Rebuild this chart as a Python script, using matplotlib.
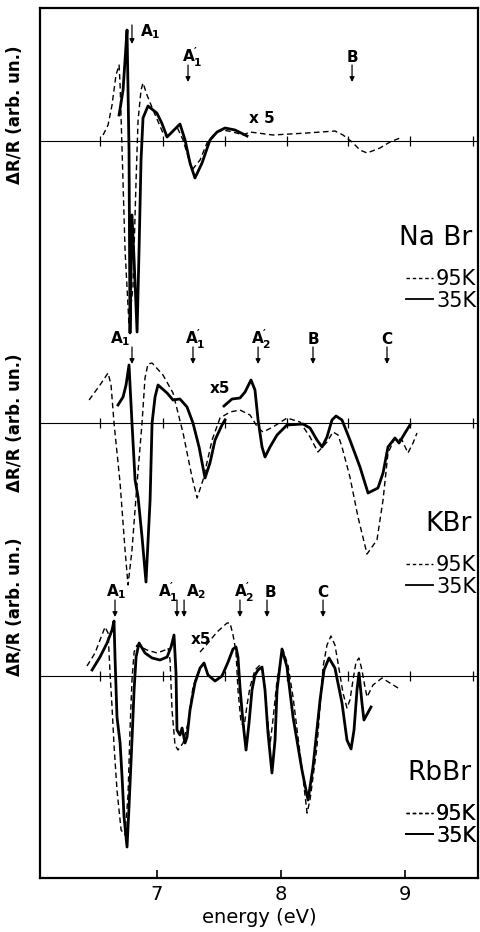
import matplotlib.pyplot as plt
from matplotlib.lines import Line2D

plt.rcParams['font.family'] = 'DejaVu Sans'
plt.rcParams['mathtext.default'] = 'regular'

# energies (eV) and dR/R (arb. units)

# NaBr
nabr_95k_e = [6.565, 6.605, 6.637, 6.669, 6.694, 6.702, 6.718, 6.742, 6.774, 6.806,
              6.831, 6.847, 6.871, 6.887, 6.919, 6.968, 7.048, 7.081, 7.161, 7.210,
              7.282, 7.347, 7.403, 7.468, 7.532, 7.613, 7.694, 7.750, 7.935, 8.210,
              8.435, 8.500, 8.573, 8.637, 8.694, 8.798, 8.879, 8.960]
nabr_95k_r = [6, 16, 36, 66, 76, 56, -9, -109, -184, -146,
              -39, 21, 51, 58, 46, 31, 8, 4, 14, 1,
              -29, -19, -2, 8, 11, 9, 6, 9, 6, 8,
              10, 6, -1, -9, -12, -7, -1, 3]
nabr_35k_e = [6.694, 6.726, 6.742, 6.758, 6.774, 6.782, 6.798, 6.815, 6.839, 6.855,
              6.871, 6.887, 6.927, 6.998, 7.038, 7.081, 7.121, 7.185, 7.226, 7.266,
              7.306, 7.363, 7.427, 7.484, 7.548, 7.629, 7.726]
nabr_35k_r = [26, 51, 81, 111, -9, -192, -74, -119, -191, -109,
              -19, 23, 35, 28, 18, 4, 9, 17, 1, -22,
              -37, -22, 1, 9, 13, 11, 5]

# KBr
kbr_95k_e = [6.452, 6.540, 6.605, 6.629, 6.653, 6.702, 6.742, 6.766, 6.798, 6.839,
             6.879, 6.903, 6.927, 6.960, 7.048, 7.129, 7.210, 7.282, 7.323, 7.371,
             7.444, 7.508, 7.589, 7.669, 7.750, 7.815, 7.855, 7.935, 8.048, 8.153,
             8.234, 8.298, 8.371, 8.419, 8.460, 8.492, 8.556, 8.621, 8.694, 8.774,
             8.823, 8.863, 8.919, 8.976, 9.024, 9.065, 9.097]
kbr_95k_r = [23, 38, 50, 38, 0, -60, -127, -162, -127, -60,
             0, 45, 59, 60, 48, 30, -10, -54, -75, -57,
             -17, 5, 11, 13, 8, -5, -9, -4, 5, 1,
             -14, -29, -19, -9, -12, -24, -54, -94, -131, -117,
             -77, -30, -15, -17, -30, -20, -10]
kbr_35k_e = [6.685, 6.726, 6.750, 6.774, 6.798, 6.823, 6.847, 6.879, 6.911, 6.944,
             6.960, 6.984, 7.008, 7.081, 7.129, 7.185, 7.242, 7.290, 7.339, 7.387,
             7.427, 7.468, 7.524, 7.548]
kbr_35k_r = [18, 26, 38, 58, 0, -57, -74, -114, -159, -77,
             0, 26, 38, 30, 23, 24, 16, 0, -24, -55,
             -40, -17, -2, 3]
# x5 part of the 35K curve
kbr_35k_x5_e = [7.540, 7.605, 7.669, 7.710, 7.758, 7.790, 7.815, 7.847, 7.871, 7.911,
                7.968, 8.048, 8.177, 8.234, 8.290, 8.331, 8.371, 8.411, 8.444, 8.492,
                8.556, 8.637, 8.702, 8.782, 8.823, 8.863, 8.919, 8.952, 9.000, 9.040]
kbr_35k_x5_r = [17, 24, 25, 31, 43, 33, 3, -24, -34, -24,
                -12, -2, -1, -5, -17, -24, -14, 3, 7, 3,
                -17, -44, -70, -65, -50, -24, -15, -20, -10, -2]

# RbBr
rbbr_95k_e = [6.435, 6.500, 6.540, 6.581, 6.605, 6.621, 6.637, 6.653, 6.677, 6.710,
              6.742, 6.766, 6.782, 6.798, 6.815, 6.839, 6.919, 7.000, 7.065, 7.089,
              7.105, 7.121, 7.145, 7.169, 7.210, 7.250, 7.290, 7.323, 7.355]
rbbr_95k_r = [10, 23, 36, 49, 43, 3, -31, -69, -114, -154,
              -159, -119, -54, -4, 24, 31, 26, 23, 26, 28,
              16, -34, -69, -74, -67, -47, -11, 1, 9]
rbbr_95k_x5_e = [7.347, 7.411, 7.484, 7.565, 7.589, 7.613, 7.637, 7.653, 7.677, 7.702,
                 7.726, 7.750, 7.790, 7.831, 7.855, 7.887, 7.911, 7.935, 7.968, 8.016,
                 8.056, 8.097, 8.177, 8.210, 8.234, 8.290, 8.339, 8.371, 8.403, 8.435,
                 8.460, 8.500, 8.532, 8.556, 8.581, 8.605, 8.629, 8.653, 8.677, 8.694,
                 8.742, 8.815, 8.879, 8.944]
rbbr_95k_x5_r = [24, 33, 44, 53, 53, 41, 24, -14, -46, -51,
                 -29, -11, 6, 11, 4, -37, -69, -44, -4, 26,
                 11, -21, -101, -137, -124, -71, 9, 31, 40, 31,
                 13, -17, -32, -24, -4, 14, 18, 6, -11, -21,
                 -9, -2, -7, -12]
rbbr_35k_e = [6.476, 6.540, 6.597, 6.637, 6.653, 6.661, 6.669, 6.677, 6.702, 6.718,
              6.734, 6.758, 6.774, 6.798, 6.815, 6.831, 6.855, 6.903, 6.960, 7.024,
              7.081, 7.113, 7.137, 7.153, 7.161, 7.185, 7.202, 7.226, 7.242, 7.266,
              7.306, 7.347, 7.379, 7.411, 7.468, 7.524, 7.573, 7.613, 7.637, 7.653,
              7.669, 7.694, 7.718, 7.742, 7.766, 7.790, 7.815, 7.847, 7.871, 7.895,
              7.927, 7.952, 7.968, 8.008, 8.048, 8.097, 8.169, 8.218, 8.258, 8.315,
              8.347, 8.387, 8.435, 8.492, 8.532, 8.565, 8.589, 8.613, 8.629, 8.653,
              8.669, 8.726]
rbbr_35k_r = [6, 19, 33, 46, 55, 19, -11, -41, -67, -101,
              -141, -171, -131, -64, -14, 19, 33, 23, 18, 16,
              19, 29, 41, 3, -54, -59, -52, -67, -61, -34,
              -7, 8, 13, 1, -5, 0, 14, 27, 29, 19,
              -11, -47, -74, -47, -14, 1, 6, 9, -14, -57,
              -97, -64, -14, 27, 9, -41, -94, -124, -91, -24,
              6, 18, 8, -27, -64, -73, -54, -14, 3, -27,
              -44, -31]

# structure assignments: label, arrow energy, label energy
nabr_marks = ["A$_1^{\\prime}$", "B"]
nabr_mark_e = [7.250, 8.573]
nabr_mark_text_e = [7.282, 8.573]
kbr_marks = ["A$_1$", "A$_1^{\\prime}$", "A$_2^{\\prime}$", "B", "C"]
kbr_mark_e = [6.798, 7.290, 7.815, 8.258, 8.855]
kbr_mark_text_e = [6.702, 7.306, 7.839, 8.258, 8.855]
rbbr_marks = ["A$_1$", "A$_1^{\\prime}$", "A$_2$", "A$_2^{\\prime}$", "B", "C"]
rbbr_mark_e = [6.661, 7.161, 7.218, 7.669, 7.887, 8.339]
rbbr_mark_text_e = [6.669, 7.089, 7.315, 7.702, 7.911, 8.339]

zero_ticks = [6.54, 7.05, 7.55, 8.05, 8.54, 9.04, 9.55]


def arrow(ax, e, top, bottom):
    ax.annotate('', xy=(e, bottom), xytext=(e, top),
                arrowprops=dict(arrowstyle='-|>', lw=0.9, color='k',
                                mutation_scale=7, shrinkA=0, shrinkB=0))


def draw_marks(ax, base, names, arrow_e, text_e):
    for name, ea, et in zip(names, arrow_e, text_e):
        ax.text(et, base + 84, name, ha='center', va='center',
                fontsize=11, fontweight='bold')
        arrow(ax, ea, base + 76, base + 59)


def draw_panel(ax, base, curves95, curves35, name, leg_y):
    ax.axhline(base, color='k', lw=0.8)
    ax.plot(zero_ticks, [base] * len(zero_ticks), '|', color='k', ms=7, mew=0.9)
    for e, r in curves95:
        ax.plot(e, [base + v for v in r], color='k', lw=1.0, dashes=(4, 2.5))
    for e, r in curves35:
        ax.plot(e, [base + v for v in r], color='k', lw=2.0,
                solid_joinstyle='round')
    ax.text(9.54, leg_y + 52, name, ha='right', va='center', fontsize=19)
    h95 = Line2D([], [], color='k', lw=1.0, dashes=(2.5, 2))
    h35 = Line2D([], [], color='k', lw=1.3)
    leg = ax.legend([h95, h35], ['95K', '35K'], loc='center right',
                    bbox_to_anchor=(0.996, leg_y / 870.0), frameon=False,
                    fontsize=15, handlelength=1.3, handletextpad=0.15,
                    labelspacing=0.05, borderpad=0, borderaxespad=0)
    ax.add_artist(leg)


fig = plt.figure(figsize=(4.8, 9.32), dpi=100)
ax = fig.add_axes([40 / 480, 1 - 878 / 932, 438 / 480, 870 / 932])
ax.set_xlim(6.056, 9.589)
ax.set_ylim(0, 870)

nabr_base, kbr_base, rbbr_base = 737, 455, 202

draw_panel(ax, nabr_base, [(nabr_95k_e, nabr_95k_r)],
           [(nabr_35k_e, nabr_35k_r)], 'Na Br', 588)
draw_panel(ax, kbr_base, [(kbr_95k_e, kbr_95k_r)],
           [(kbr_35k_e, kbr_35k_r), (kbr_35k_x5_e, kbr_35k_x5_r)], 'KBr', 302)
draw_panel(ax, rbbr_base, [(rbbr_95k_e, rbbr_95k_r), (rbbr_95k_x5_e, rbbr_95k_x5_r)],
           [(rbbr_35k_e, rbbr_35k_r)], 'RbBr', 53)

# NaBr A1 is labelled beside its arrow
arrow(ax, 6.798, nabr_base + 116, nabr_base + 97)
ax.text(6.863, nabr_base + 109, "A$_1$", ha='left', va='center',
        fontsize=11, fontweight='bold')
draw_marks(ax, nabr_base, nabr_marks, nabr_mark_e, nabr_mark_text_e)
draw_marks(ax, kbr_base, kbr_marks, kbr_mark_e, kbr_mark_text_e)
draw_marks(ax, rbbr_base, rbbr_marks, rbbr_mark_e, rbbr_mark_text_e)

ax.text(7.847, nabr_base + 23, 'x 5', ha='center', va='center', fontsize=11, fontweight='bold')
ax.text(7.508, kbr_base + 35, 'x5', ha='center', va='center', fontsize=11, fontweight='bold')
ax.text(7.355, rbbr_base + 37, 'x5', ha='center', va='center', fontsize=11, fontweight='bold')

for yc in [115, 423, 607]:
    fig.text(15 / 480, 1 - yc / 932, 'ΔR/R (arb. un.)', rotation=90,
             ha='center', va='center', fontsize=12, fontweight='bold')

ax.set_xticks([7, 8, 9])
ax.set_xticklabels(['7', '8', '9'])
ax.set_yticks([])
ax.tick_params(axis='x', direction='in', length=6, width=1.2, pad=5, labelsize=14)
ax.set_xlabel('energy (eV)', fontsize=14, labelpad=3)
for s in ax.spines.values():
    s.set_linewidth(1.6)

fig.savefig('out.png', dpi=100)
